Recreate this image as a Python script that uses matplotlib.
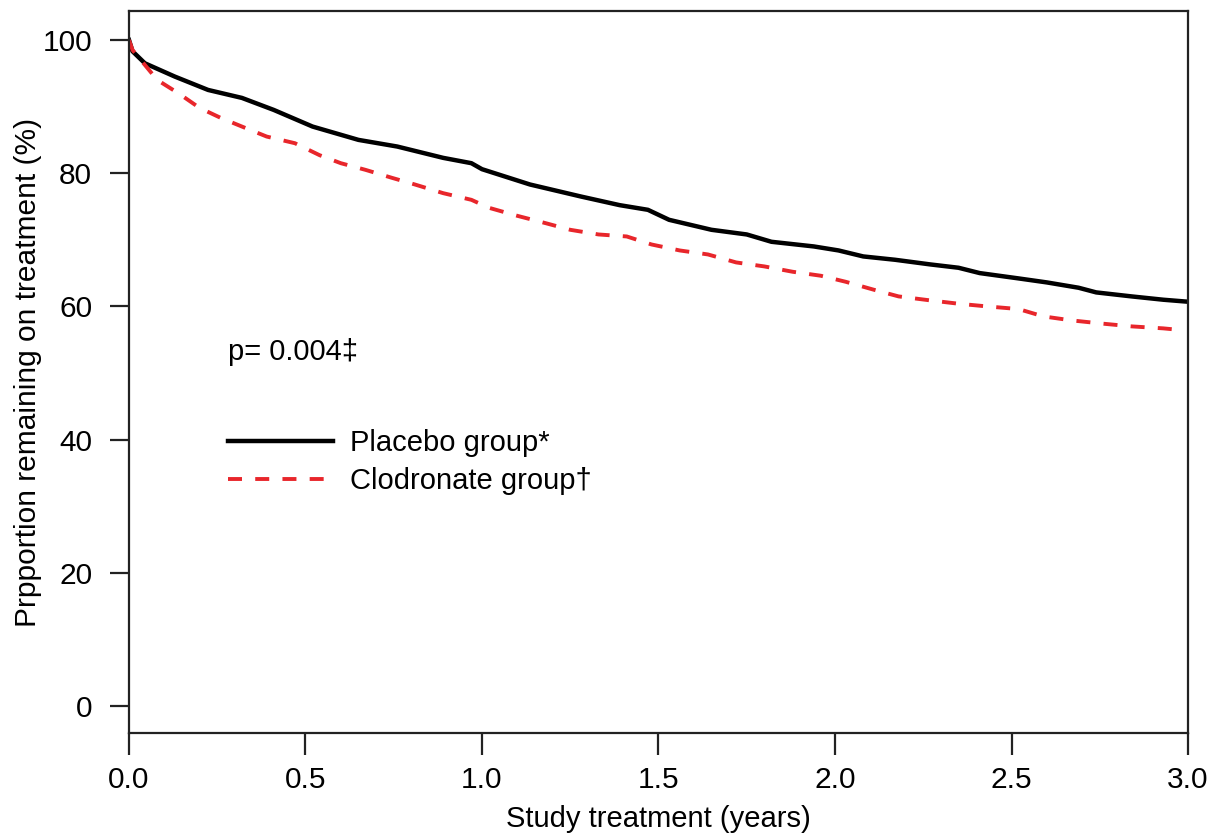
import matplotlib
matplotlib.use("Agg")
import matplotlib.pyplot as plt

plt.rcParams['font.family'] = ['Liberation Sans', 'DejaVu Sans']

# Kaplan-Meier style curves (years, % remaining)
placebo_t = [0.0, 0.01, 0.045, 0.13, 0.224, 0.32, 0.41, 0.52, 0.65, 0.76, 0.89, 0.97,
             1.0, 1.136, 1.28, 1.39, 1.47, 1.53, 1.65, 1.75, 1.82, 1.94, 2.01,
             2.08, 2.17, 2.27, 2.35, 2.41, 2.52, 2.60, 2.69, 2.74, 2.84, 2.93, 3.0]
placebo_y = [100.0, 98.3, 96.5, 94.5, 92.5, 91.3, 89.5, 87.0, 85.0, 84.0, 82.3, 81.5,
             80.6, 78.3, 76.5, 75.2, 74.5, 73.0, 71.5, 70.8, 69.7, 69.0, 68.4,
             67.5, 67.0, 66.3, 65.8, 65.0, 64.2, 63.6, 62.8, 62.1, 61.5, 61.0, 60.7]

clodronate_t = [0.0, 0.01, 0.08, 0.14, 0.20, 0.26, 0.32, 0.39, 0.47, 0.54, 0.60, 0.67,
                0.745, 0.81, 0.89, 0.97, 1.02, 1.10, 1.18, 1.25, 1.33, 1.41, 1.48,
                1.56, 1.64, 1.72, 1.80, 1.88, 1.96, 2.03, 2.11, 2.18, 2.27, 2.35,
                2.43, 2.52, 2.59, 2.67, 2.76, 2.84, 2.93, 2.97]
clodronate_y = [100.0, 98.5, 94.0, 92.0, 89.8, 88.3, 87.0, 85.5, 84.5, 82.7, 81.5, 80.5,
                79.3, 78.3, 77.0, 76.0, 74.8, 73.6, 72.5, 71.5, 70.8, 70.5, 69.3,
                68.4, 67.8, 66.6, 66.0, 65.2, 64.6, 63.7, 62.5, 61.5, 60.9, 60.4,
                60.0, 59.6, 58.5, 57.9, 57.4, 57.0, 56.7, 56.5]

x_ticks = [0.0, 0.5, 1.0, 1.5, 2.0, 2.5, 3.0]
y_ticks = [0, 20, 40, 60, 80, 100]

fig = plt.figure(figsize=(12.25, 8.4), dpi=100)
ax = fig.add_axes([0.1053, 0.1274, 0.8645, 0.8595])

ax.plot(placebo_t, placebo_y, color='black', lw=3.2, label='Placebo group*',
        solid_joinstyle='round')
ax.plot(clodronate_t, clodronate_y, color='#e8262b', lw=2.8, dashes=(3.6, 3.4),
        label='Clodronate group\u2020')

ax.set_xlim(0, 3.0)
ax.set_ylim(-4.05, 104.35)
ax.set_xticks(x_ticks)
ax.set_xticklabels(['%.1f' % t for t in x_ticks])
ax.set_yticks(y_ticks)

for s in ax.spines.values():
    s.set_linewidth(1.6)
    s.set_color('#222222')
ax.tick_params(axis='y', direction='out', length=13.5, width=1.6, pad=13,
               labelsize=21.5, color='#222222')
ax.tick_params(axis='x', direction='out', length=16, width=1.6, pad=8,
               labelsize=21.5, color='#222222')

ax.set_xlabel('Study treatment (years)', fontsize=21)
ax.set_ylabel('Prpportion remaining on treatment (%)', fontsize=21.5)
ax.xaxis.set_label_coords(0.5, -0.1)
ax.yaxis.set_label_coords(-0.082, 0.5)

ax.text(0.28, 53.2, 'p= 0.004\u2021', fontsize=21, va='center', ha='left')

ax.legend(loc='upper left', bbox_to_anchor=(0.0935, 0.4205), frameon=False,
          fontsize=21, handlelength=3.6, handletextpad=0.58, labelspacing=0.32,
          borderpad=0, borderaxespad=0)

fig.savefig('out.png', dpi=100)
